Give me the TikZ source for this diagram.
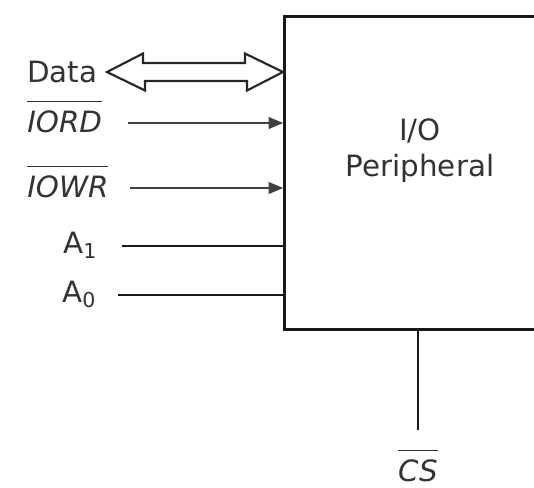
\documentclass[tikz,border=0pt]{standalone}
\usepackage{fontspec}
\setmainfont{DejaVu Sans}
\usetikzlibrary{arrows}
\newcommand{\actlow}[1]{$\overline{\mbox{\itshape #1}\rule{0pt}{0.98em}}$}

\begin{document}
\begin{tikzpicture}[x=0.75pt, y=-0.75pt]
        \tikzstyle{every node}+=[inner sep=0pt, font=\fontsize{22}{27}\selectfont, text=black!80]
        \tikzset{sig/.style={line width=1.5pt, black!75}, pin/.style={line width=2pt, black!90}}
        \clip (0,0) rectangle (534,487);
        \fill [white] (0,0) rectangle (534,487);

        \node [draw, line width=2.2pt, black!90, minimum width=240pt, minimum height=234.75pt, anchor=north west] (io) at (283,15) {};
        \node [align=center] (iotext) at (420,151) {I/O\\Peripheral};

        \node [anchor=base west] (data) at (27,82) {Data};
        \node [anchor=base west] (iord) at (27,132) {\actlow{IORD}};
        \node [anchor=base west] (iowr) at (27,197) {\actlow{IOWR}};
        \node [anchor=base west] (aone) at (63,253) {A\textsubscript{1}};
        \node [anchor=base west] (azero) at (62,302) {A\textsubscript{0}};
        \node [anchor=base] (cs) at (418,481) {\actlow{CS}};

        \coordinate (bus-l) at (107,72);
        \coordinate (bus-r) at (bus-l -| io.west);
        \draw [line width=1.6pt, black!85] (bus-l) -- ++(36,-18.5) -- ++(0,9.5) -- ++(102,0) -- ++(0,-9.5) -- (bus-r)
              -- ++(-36,18.5) -- ++(0,-9.5) -- ++(-102,0) -- ++(0,9.5) -- cycle;

        \coordinate (iord-s) at (128,123);
        \draw [arrows=-triangle 45, sig] (iord-s) -- (iord-s -| io.west);

        \coordinate (iowr-s) at (130,188);
        \draw [arrows=-triangle 45, sig] (iowr-s) -- (iowr-s -| io.west);

        \coordinate (aone-s) at (122,246);
        \draw [pin] (aone-s) -- (aone-s -| io.west);

        \coordinate (azero-s) at (118,295);
        \draw [pin] (azero-s) -- (azero-s -| io.west);

        \coordinate (cs-end) at (418,430);
        \draw [pin] (cs-end |- io.south) -- (cs-end);
      \end{tikzpicture}
\end{document}
